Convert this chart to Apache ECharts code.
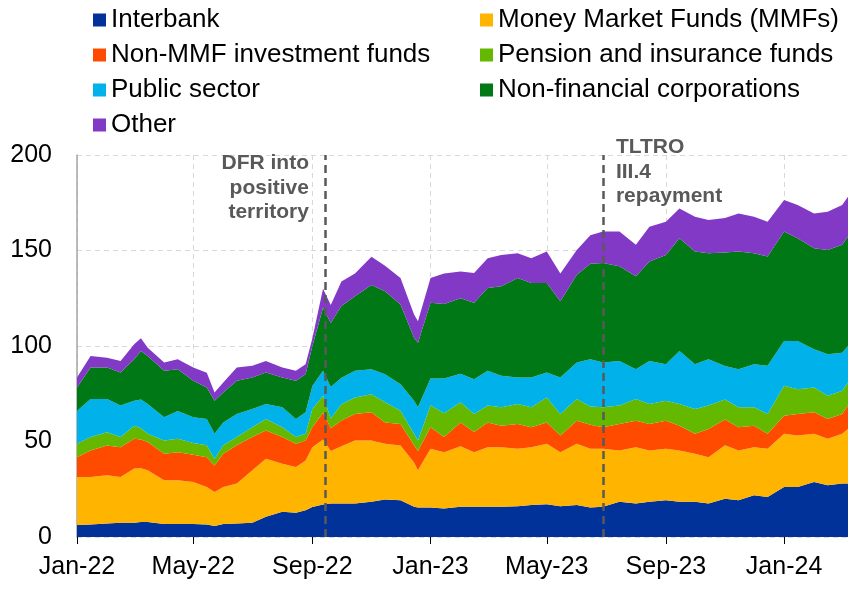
<!DOCTYPE html>
<html>
<head>
<meta charset="utf-8">
<script src="https://cdn.jsdelivr.net/npm/echarts@6.0.0/dist/echarts.min.js"></script>
<style>
  html, body { margin: 0; padding: 0; background: #fff; }
  #chart { width: 856px; height: 589px; }
</style>
</head>
<body>
<div id="chart"></div>
<script>
// semi-monthly readings (EUR bn), stacked bottom to top
const dates = [
  '2022-01-01','2022-01-15','2022-02-01','2022-02-15','2022-03-01','2022-03-08','2022-03-15','2022-04-01','2022-04-15','2022-05-01',
  '2022-05-15','2022-05-23','2022-06-01','2022-06-15','2022-07-01','2022-07-15','2022-08-01','2022-08-15','2022-08-25','2022-09-01',
  '2022-09-12','2022-09-20','2022-10-01','2022-10-15','2022-11-01','2022-11-15','2022-12-01','2022-12-15','2022-12-19',
  '2023-01-01','2023-01-15','2023-02-01','2023-02-15','2023-03-01','2023-03-15','2023-04-01','2023-04-15','2023-05-01','2023-05-15',
  '2023-06-01','2023-06-15','2023-06-28','2023-07-15','2023-08-01','2023-08-15','2023-09-01','2023-09-15','2023-10-01','2023-10-15',
  '2023-11-01','2023-11-15','2023-12-01','2023-12-15',
  '2024-01-01','2024-01-15','2024-02-01','2024-02-15','2024-03-01','2024-03-07'
];

const interbank = [
  6.3,6.6,7.1,7.5,7.5,7.8,7.8,6.8,6.8,6.8, 6.6,5.7,6.8,7.1,7.5,10.6,13.2,12.7,14.0,15.7,
  17.0,17.5,17.5,17.5,18.4,19.6,19.3,15.8,15.5,
  15.5,14.9,15.8,15.8,15.8,15.8,16.1,16.7,17.2,16.1, 16.7,15.5,15.8,18.4,17.5,18.4,19.3,18.4,18.4,17.5,
  20.0,19.3,21.9,21.0,
  26.2,26.2,28.8,27.1,28.0,28.0
];
const mmf = [
  25.1,24.8,25.2,23.9,28.3,28.2,27.1,22.9,22.9,22.0, 19.6,17.9,19.4,20.9,27.4,30.4,25.2,23.9,26.0,31.3,
  34.0,27.5,30.0,33.0,32.1,29.2,28.6,23.2,19.5,
  30.7,29.5,31.7,28.6,31.2,31.2,30.1,30.3,31.6,28.3, 32.1,30.7,30.4,26.9,29.5,26.9,26.9,26.9,25.2,24.3,
  28.0,26.0,25.1,25.2,
  27.8,26.9,25.2,24.3,26.0,28.6
];
const nonMmf = [
  10.4,13.9,15.6,15.6,15.6,15.0,14.8,13.9,14.7,14.2, 15.6,13.9,17.4,20.0,17.4,14.7,13.9,12.2,10.5,10.5,
  14.0,12.0,13.5,13.9,14.8,11.2,11.3,9.0,10.0,
  11.3,8.0,12.5,10.6,13.0,11.3,13.0,10.5,11.2,8.7, 12.1,12.6,11.3,13.9,13.9,13.9,14.7,13.0,10.4,14.8,
  13.5,12.2,11.3,7.8,
  9.5,11.3,11.3,10.4,10.4,12.2
];
const pension = [
  7.0,7.0,7.0,5.3,6.9,6.0,4.3,6.9,7.0,6.2, 6.2,3.5,4.4,4.3,5.2,6.1,5.2,3.5,3.5,9.5,
  9.0,5.0,8.5,8.6,9.5,10.5,6.9,6.0,5.5,
  11.5,12.4,10.5,9.4,8.8,9.6,10.4,10.4,13.1,11.3, 11.3,9.5,10.4,9.6,11.3,10.4,10.5,11.3,13.0,12.2,
  10.5,10.4,9.6,10.4,
  15.7,13.0,13.0,12.2,12.2,12.1
];
const publicSector = [
  17.2,19.9,17.3,16.5,13.1,15.0,15.6,12.2,14.6,13.5, 13.8,13.0,12.0,12.1,9.5,7.8,10.4,9.5,11.3,12.0,
  13.0,16.5,13.9,14.0,13.0,14.7,13.9,17.4,17.4,
  14.0,18.2,15.0,18.2,18.2,16.5,13.9,15.6,13.0,19.1, 19.1,24.7,23.4,23.4,15.6,22.6,19.1,27.8,23.5,24.2,
  17.5,19.9,22.6,25.2,
  23.4,25.2,20.0,21.7,19.9,19.1
];
const nfc = [
  12.3,16.5,16.5,17.3,21.6,25.4,25.2,24.3,21.8,19.1, 16.5,17.4,15.7,17.4,16.5,16.5,15.6,20.0,19.9,21.0,
  33.0,33.5,37.6,39.0,44.2,43.4,41.7,32.9,33.8,
  39.6,39.0,39.5,40.0,43.4,46.9,52.1,49.5,46.9,39.9, 46.0,50.0,52.1,49.5,48.7,52.1,57.2,59.0,59.0,55.6,
  59.5,61.7,58.1,57.3,
  57.3,53.8,52.9,54.6,56.5,57.3
];
const other = [
  5.2,6.1,5.2,6.1,7.9,6.6,4.3,4.3,5.2,7.0, 7.7,4.3,5.2,6.9,6.1,6.1,5.2,5.2,5.3,4.0,
  10.0,9.5,12.8,12.0,14.7,13.4,13.9,12.2,11.3,
  13.0,16.0,14.0,15.6,15.6,16.4,13.0,13.0,16.5,14.6, 13.0,15.0,16.5,18.2,16.5,18.2,17.3,15.6,18.2,17.4,
  18.0,19.9,19.1,18.2,
  16.5,17.4,18.2,20.0,20.8,20.8
];

const seriesNames = [
  'Interbank', 'Money Market Funds (MMFs)', 'Non-MMF investment funds',
  'Pension and insurance funds', 'Public sector', 'Non-financial corporations', 'Other'
];
const seriesColors = ['#003299', '#ffb400', '#ff4b00', '#65b800', '#00b1ea', '#007816', '#8139c6'];
const seriesValues = [interbank, mmf, nonMmf, pension, publicSector, nfc, other];

const tickDates = ['2022-01-01','2022-05-01','2022-09-01','2023-01-01','2023-05-01','2023-09-01','2024-01-01'];
const tickLabels = ['Jan-22','May-22','Sep-22','Jan-23','May-23','Sep-23','Jan-24'];
const yTicks = [0, 50, 100, 150, 200];

const dfrDate = '2022-09-14';
const tltroDate = '2023-06-28';

const toTime = (d) => echarts.number.parseDate(d).getTime();
const tickTimes = tickDates.map(toTime);
const xMin = toTime(dates[0]);
const xMax = toTime(dates[dates.length - 1]);

const FONT = '"Liberation Sans", Arial, sans-serif';
const gridDash = { type: [5, 4], color: '#d9d9d9', width: 1 };

const chart = echarts.init(document.getElementById('chart'));

const series = seriesNames.map((name, k) => ({
  name: name,
  type: 'line',
  stack: 'total',
  symbol: 'none',
  color: seriesColors[k],
  lineStyle: { width: 0 },
  areaStyle: { opacity: 1, color: seriesColors[k] },
  data: dates.map((d, i) => [d, seriesValues[k][i]])
}));

// dashed event markers
series[series.length - 1].markLine = {
  silent: true,
  symbol: ['none', 'none'],
  label: { show: false },
  lineStyle: { type: [8, 5], color: '#595959', width: 2.5 },
  data: [{ xAxis: dfrDate }, { xAxis: tltroDate }]
};

const legendStyle = {
  orient: 'vertical',
  top: 2,
  itemWidth: 13,
  itemHeight: 13,
  itemGap: 9,
  icon: 'rect',
  textStyle: { fontSize: 26, color: '#000', fontFamily: FONT }
};

const option = {
  animation: false,
  legend: [
    Object.assign({ left: 88, data: [seriesNames[0], seriesNames[2], seriesNames[4], seriesNames[6]] }, legendStyle),
    Object.assign({ left: 475, data: [seriesNames[1], seriesNames[3], seriesNames[5]] }, legendStyle)
  ],
  grid: { left: 77, right: 8, top: 155, bottom: 52, containLabel: false },
  xAxis: [
    {
      // time axis carrying the data (stacking needs a non-value base axis)
      type: 'time',
      position: 'bottom',
      min: xMin,
      max: xMax,
      axisLine: { show: false },
      axisTick: { show: false },
      axisLabel: { show: false },
      splitLine: { show: false }
    },
    {
      // same span in ms, only for ticks / labels / grid on chosen month starts
      type: 'value',
      position: 'bottom',
      min: xMin,
      max: xMax,
      axisLine: { show: false },
      axisTick: { show: true, customValues: tickTimes, length: 7, lineStyle: { color: '#000', width: 1 } },
      axisLabel: {
        customValues: tickTimes,
        margin: 18,
        fontSize: 25,
        color: '#000',
        fontFamily: FONT,
        formatter: (val) => {
          const i = tickTimes.indexOf(val);
          return i >= 0 ? tickLabels[i] : '';
        }
      },
      splitLine: { show: true, lineStyle: gridDash }
    }
  ],
  yAxis: {
    type: 'value',
    min: yTicks[0],
    max: yTicks[yTicks.length - 1],
    interval: 50,
    axisLine: { show: true, lineStyle: { color: '#a6a6a6', width: 1.5 } },
    axisTick: { show: false },
    axisLabel: { margin: 25, fontSize: 25, color: '#000', fontFamily: FONT },
    splitLine: { show: true, lineStyle: gridDash }
  },
  series: series
};

chart.setOption(option);

// annotation texts placed next to the markers
const dfrPx = chart.convertToPixel({ xAxisIndex: 0, yAxisIndex: 0 }, [dfrDate, yTicks[yTicks.length - 1]]);
const tltroPx = chart.convertToPixel({ xAxisIndex: 0, yAxisIndex: 0 }, [tltroDate, yTicks[yTicks.length - 1]]);
const noteFont = 'bold 21px ' + FONT;

chart.setOption({
  graphic: [
    {
      type: 'text',
      x: dfrPx[0] - 16,
      y: dfrPx[1] - 4,
      style: {
        text: 'DFR into\npositive\nterritory',
        font: noteFont,
        fill: '#595959',
        align: 'right',
        verticalAlign: 'top',
        lineHeight: 24.5
      }
    },
    {
      type: 'text',
      x: tltroPx[0] + 13,
      y: tltroPx[1] - 20,
      style: {
        text: 'TLTRO\nIII.4\nrepayment',
        font: noteFont,
        fill: '#595959',
        align: 'left',
        verticalAlign: 'top',
        lineHeight: 24.5
      }
    }
  ]
});
</script>
</body>
</html>
